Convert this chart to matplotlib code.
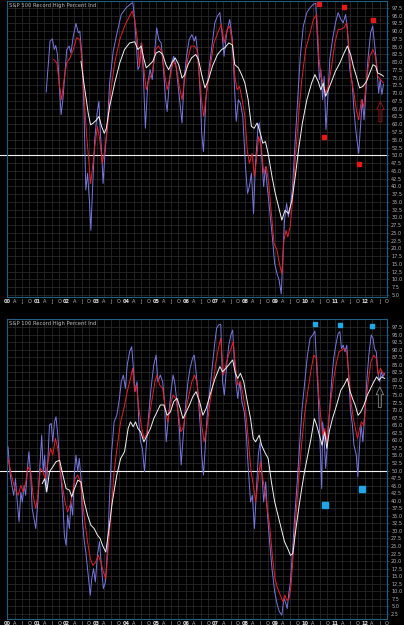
import numpy as np
import matplotlib
matplotlib.use("Agg")
import matplotlib.pyplot as plt
from matplotlib.patches import FancyArrow

# ---- S&P 500 panel data (year, percent) ----
spx_blue_t = [2001.31, 2001.44, 2001.52, 2001.58, 2001.63, 2001.69, 2001.76, 2001.81, 2001.87, 2001.94,
              2002.0, 2002.08, 2002.14, 2002.22, 2002.31, 2002.39, 2002.44, 2002.52, 2002.58, 2002.64,
              2002.7, 2002.76, 2002.81, 2002.87, 2002.94, 2003.02, 2003.08, 2003.13, 2003.18, 2003.22,
              2003.29, 2003.36, 2003.44, 2003.56, 2003.69, 2003.83, 2004.0, 2004.17, 2004.22, 2004.28,
              2004.33, 2004.39, 2004.44, 2004.5, 2004.56, 2004.64, 2004.72, 2004.8, 2004.87, 2004.94,
              2005.02, 2005.09, 2005.17, 2005.24, 2005.31, 2005.37, 2005.44, 2005.52, 2005.59, 2005.67,
              2005.74, 2005.82, 2005.87, 2005.94, 2006.02, 2006.11, 2006.2, 2006.28, 2006.33, 2006.41,
              2006.48, 2006.53, 2006.59, 2006.67, 2006.76, 2006.86, 2006.97, 2007.06, 2007.14, 2007.2,
              2007.28, 2007.37, 2007.47, 2007.56, 2007.63, 2007.69, 2007.76, 2007.83, 2007.91, 2008.0,
              2008.07, 2008.13, 2008.2, 2008.27, 2008.33, 2008.42, 2008.47, 2008.53, 2008.61, 2008.67,
              2008.73, 2008.8, 2008.89, 2008.98, 2009.06, 2009.13, 2009.2, 2009.24, 2009.31, 2009.38,
              2009.44, 2009.51, 2009.58, 2009.67, 2009.76, 2009.84, 2009.94, 2010.06, 2010.17, 2010.28,
              2010.36, 2010.42, 2010.48, 2010.53, 2010.59, 2010.64, 2010.7, 2010.76, 2010.83, 2010.92,
              2011.02, 2011.11, 2011.2, 2011.28, 2011.36, 2011.42, 2011.5, 2011.58, 2011.64, 2011.69,
              2011.74, 2011.8, 2011.87, 2011.92, 2011.98, 2012.03, 2012.11, 2012.2, 2012.27, 2012.33,
              2012.41, 2012.47, 2012.52, 2012.58, 2012.63]
spx_blue_v = [70.4, 86.8, 87.5, 84.1, 85.4, 82.5, 71.1, 63.1, 67.9, 76.5,
              84.1, 85.2, 83.0, 88.4, 92.5, 89.5, 90.0, 80.9, 64.7, 38.8,
              44.2, 35.5, 25.8, 39.9, 55.0, 63.6, 67.4, 57.1, 49.6, 40.9,
              51.7, 59.3, 73.3, 83.5, 89.5, 95.4, 97.6, 99.0, 99.2, 93.8,
              86.2, 77.6, 78.7, 86.2, 78.7, 58.7, 73.3, 77.6, 74.4, 81.9,
              91.1, 87.3, 86.2, 78.7, 69.0, 64.1, 73.3, 79.8, 81.9, 78.7,
              72.2, 64.7, 60.4, 74.4, 81.9, 87.3, 88.9, 86.8, 88.4, 81.9,
              70.0, 57.1, 51.2, 67.9, 76.5, 84.1, 92.7, 94.9, 96.0, 90.6,
              81.9, 89.5, 93.8, 87.3, 72.2, 60.9, 67.9, 66.8, 62.5, 46.3,
              37.7, 39.9, 44.2, 31.2, 46.3, 59.3, 60.4, 51.7, 39.9, 46.3,
              39.9, 33.4, 24.8, 15.0, 11.8, 9.7, 5.3, 14.0, 29.1, 34.5,
              30.2, 33.4, 39.9, 55.0, 69.0, 81.9, 91.6, 96.0, 97.6, 98.7,
              99.0, 86.2, 74.4, 77.6, 67.9, 75.5, 58.2, 67.9, 80.9, 87.3,
              92.7, 96.0, 93.8, 92.7, 95.4, 90.6, 77.6, 73.3, 64.7, 59.3,
              55.0, 50.6, 60.4, 67.9, 61.4, 69.0, 80.9, 89.5, 91.6, 86.2,
              78.7, 70.0, 74.4, 69.6, 72.8]

spx_red_t = [2001.56, 2001.67, 2001.76, 2001.83, 2001.91, 2002.0, 2002.11, 2002.22, 2002.33, 2002.44,
             2002.52, 2002.59, 2002.67, 2002.74, 2002.8, 2002.87, 2002.94, 2003.03, 2003.11, 2003.19,
             2003.26, 2003.36, 2003.47, 2003.61, 2003.78, 2003.94, 2004.11, 2004.2, 2004.28, 2004.37,
             2004.44, 2004.52, 2004.59, 2004.67, 2004.76, 2004.87, 2004.98, 2005.08, 2005.19, 2005.28,
             2005.37, 2005.47, 2005.58, 2005.67, 2005.78, 2005.87, 2005.96, 2006.06, 2006.17, 2006.28,
             2006.37, 2006.44, 2006.52, 2006.6, 2006.69, 2006.8, 2006.94, 2007.09, 2007.19, 2007.28,
             2007.39, 2007.47, 2007.56, 2007.64, 2007.72, 2007.8, 2007.89, 2007.98, 2008.06, 2008.13,
             2008.22, 2008.3, 2008.37, 2008.44, 2008.53, 2008.61, 2008.7, 2008.78, 2008.87, 2008.96,
             2009.06, 2009.14, 2009.22, 2009.29, 2009.36, 2009.42, 2009.5, 2009.58, 2009.67, 2009.78,
             2009.89, 2010.02, 2010.17, 2010.28, 2010.39, 2010.47, 2010.53, 2010.61, 2010.69, 2010.78,
             2010.89, 2011.0, 2011.11, 2011.2, 2011.3, 2011.4, 2011.48, 2011.56, 2011.64, 2011.72,
             2011.8, 2011.89, 2011.97, 2012.06, 2012.17, 2012.28, 2012.36, 2012.44, 2012.53, 2012.63]
spx_red_v = [80.9, 79.8, 72.2, 67.9, 74.4, 79.8, 81.4, 84.1, 87.9, 87.3,
             79.8, 67.9, 56.0, 48.5, 40.9, 46.3, 52.8, 59.3, 55.0, 47.4,
             50.6, 58.2, 70.1, 79.8, 87.3, 91.6, 94.9, 96.5, 93.8, 87.3,
             78.7, 86.2, 77.6, 71.1, 74.4, 76.5, 84.1, 85.2, 83.5, 76.5,
             71.1, 75.5, 80.4, 78.7, 72.2, 67.9, 74.4, 80.9, 85.2, 85.2,
             84.1, 76.5, 67.9, 62.5, 70.1, 77.6, 86.2, 90.0, 92.2, 86.2,
             90.7, 91.6, 86.2, 75.5, 71.1, 72.2, 67.9, 62.5, 51.7, 47.4,
             50.6, 43.1, 48.5, 56.0, 52.8, 44.2, 46.3, 40.9, 31.2, 21.5,
             19.4, 15.0, 11.8, 22.6, 25.8, 23.7, 26.9, 35.5, 48.5, 62.5,
             74.4, 84.1, 89.5, 93.8, 95.4, 80.9, 75.5, 73.3, 70.1, 72.2,
             78.7, 86.2, 90.6, 90.6, 91.1, 92.7, 84.1, 74.4, 70.1, 64.7,
             61.4, 67.9, 65.7, 74.4, 81.9, 84.1, 81.9, 75.5, 74.4, 73.3]

spx_white_t = [2002.48, 2002.56, 2002.64, 2002.72, 2002.8, 2002.89, 2003.0, 2003.08, 2003.17, 2003.26,
               2003.33, 2003.44, 2003.61, 2003.78, 2003.94, 2004.11, 2004.28, 2004.39, 2004.5, 2004.58,
               2004.67, 2004.78, 2004.89, 2005.0, 2005.11, 2005.22, 2005.33, 2005.42, 2005.53, 2005.64,
               2005.76, 2005.87, 2005.96, 2006.07, 2006.19, 2006.33, 2006.42, 2006.53, 2006.64, 2006.76,
               2006.89, 2007.06, 2007.2, 2007.31, 2007.44, 2007.56, 2007.64, 2007.76, 2007.87, 2007.98,
               2008.09, 2008.2, 2008.29, 2008.39, 2008.5, 2008.58, 2008.67, 2008.76, 2008.89, 2009.0,
               2009.11, 2009.22, 2009.33, 2009.44, 2009.56, 2009.67, 2009.78, 2009.91, 2010.06, 2010.22,
               2010.33, 2010.44, 2010.53, 2010.61, 2010.69, 2010.78, 2010.89, 2011.02, 2011.17, 2011.31,
               2011.42, 2011.53, 2011.62, 2011.72, 2011.83, 2011.94, 2012.06, 2012.17, 2012.28, 2012.37,
               2012.44, 2012.56, 2012.63]
spx_white_v = [80.3, 74.4, 69.0, 63.6, 59.8, 60.4, 61.4, 62.5, 59.3, 57.1,
               58.7, 65.7, 73.3, 79.8, 84.1, 86.2, 86.6, 84.1, 85.2, 81.4,
               78.2, 79.2, 80.3, 83.0, 83.5, 82.5, 79.2, 77.6, 79.8, 81.4,
               79.2, 74.9, 76.0, 79.2, 81.4, 82.5, 80.9, 76.0, 71.7, 74.4,
               78.7, 82.5, 84.1, 84.7, 86.2, 85.6, 79.2, 78.2, 76.0, 73.3,
               67.9, 59.3, 58.7, 60.4, 57.1, 53.9, 54.4, 50.6, 43.1, 37.7,
               33.4, 29.1, 32.3, 31.2, 35.5, 43.1, 51.7, 60.4, 67.9, 73.3,
               76.0, 73.8, 71.1, 73.3, 69.0, 71.1, 73.8, 77.1, 79.8, 83.0,
               85.2, 82.5, 78.7, 75.5, 71.7, 72.2, 73.8, 76.5, 79.2, 78.7,
               76.5, 76.0, 75.5]

spx_mark_t = [2010.48, 2011.30, 2012.27, 2010.63, 2011.80]
spx_mark_v = [98.9, 97.8, 93.6, 55.9, 47.2]

# ---- S&P 100 panel data ----
oex_blue_t = [2000.03, 2000.09, 2000.14, 2000.22, 2000.28, 2000.34, 2000.4, 2000.46, 2000.51, 2000.57,
              2000.62, 2000.68, 2000.73, 2000.79, 2000.84, 2000.9, 2000.96, 2001.03, 2001.1, 2001.16,
              2001.21, 2001.26, 2001.31, 2001.37, 2001.42, 2001.48, 2001.53, 2001.59, 2001.64, 2001.7,
              2001.76, 2001.81, 2001.87, 2001.92, 2001.98, 2002.03, 2002.09, 2002.14, 2002.2, 2002.26,
              2002.31, 2002.37, 2002.42, 2002.48, 2002.53, 2002.59, 2002.64, 2002.72, 2002.79, 2002.84,
              2002.9, 2002.96, 2003.03, 2003.1, 2003.17, 2003.23, 2003.3, 2003.37, 2003.43, 2003.5,
              2003.59, 2003.68, 2003.77, 2003.83, 2003.9, 2003.97, 2004.03, 2004.11, 2004.18, 2004.23,
              2004.29, 2004.36, 2004.42, 2004.48, 2004.54, 2004.61, 2004.68, 2004.76, 2004.83, 2004.92,
              2005.0, 2005.06, 2005.14, 2005.22, 2005.28, 2005.34, 2005.42, 2005.5, 2005.57, 2005.62,
              2005.7, 2005.78, 2005.84, 2005.92, 2006.0, 2006.07, 2006.14, 2006.22, 2006.28, 2006.33,
              2006.4, 2006.48, 2006.53, 2006.59, 2006.66, 2006.73, 2006.81, 2006.89, 2006.96, 2007.03,
              2007.1, 2007.17, 2007.23, 2007.29, 2007.37, 2007.44, 2007.51, 2007.57, 2007.62, 2007.68,
              2007.74, 2007.81, 2007.88, 2007.96, 2008.03, 2008.1, 2008.17, 2008.23, 2008.3, 2008.37,
              2008.43, 2008.49, 2008.54, 2008.61, 2008.68, 2008.74, 2008.81, 2008.89, 2008.98, 2009.07,
              2009.14, 2009.22, 2009.29, 2009.34, 2009.4, 2009.46, 2009.51, 2009.57, 2009.64, 2009.72,
              2009.81, 2009.9, 2009.99, 2010.08, 2010.17, 2010.26, 2010.33, 2010.39, 2010.44, 2010.5,
              2010.56, 2010.59, 2010.64, 2010.69, 2010.74, 2010.81, 2010.89, 2010.96, 2011.03, 2011.11,
              2011.17, 2011.22, 2011.28, 2011.34, 2011.4, 2011.47, 2011.52, 2011.59, 2011.64, 2011.72,
              2011.77, 2011.83, 2011.88, 2011.94, 2012.0, 2012.07, 2012.14, 2012.22, 2012.28, 2012.33,
              2012.39, 2012.44, 2012.5, 2012.56, 2012.61, 2012.67]
oex_blue_v = [57.8, 49.6, 46.2, 41.8, 47.3, 39.6, 33.0, 42.9, 39.6, 45.1,
              41.8, 50.7, 56.2, 48.5, 37.4, 34.1, 30.8, 39.6, 51.8, 61.7,
              49.6, 55.1, 42.9, 54.0, 65.0, 65.6, 59.5, 66.1, 67.8, 61.7,
              52.9, 47.3, 39.6, 28.6, 25.2, 35.2, 30.8, 39.6, 35.2, 49.6,
              55.1, 49.6, 54.0, 47.3, 33.0, 26.4, 23.0, 15.3, 8.7, 14.2,
              17.5, 13.1, 21.9, 26.4, 17.5, 10.9, 13.1, 24.1, 39.6, 55.1,
              66.1, 68.3, 73.9, 79.4, 81.6, 77.2, 84.9, 89.3, 91.0, 84.9,
              76.1, 79.4, 66.1, 59.5, 57.3, 49.6, 59.5, 69.4, 77.2, 84.9,
              88.2, 79.4, 81.6, 79.4, 72.8, 59.5, 68.3, 76.1, 81.6, 79.4,
              72.8, 63.9, 51.8, 62.8, 72.8, 79.4, 83.8, 87.1, 88.2, 83.8,
              76.1, 65.0, 55.1, 48.5, 59.5, 70.6, 77.2, 84.9, 91.5, 97.1,
              98.2, 98.4, 79.4, 75.0, 84.9, 91.5, 94.9, 96.5, 87.1, 79.4,
              73.9, 79.4, 72.8, 69.4, 61.7, 49.6, 39.6, 41.8, 30.8, 44.0,
              55.1, 59.5, 50.7, 39.6, 46.2, 35.2, 26.4, 17.5, 9.8, 5.4,
              3.2, 2.1, 7.6, 6.5, 4.3, 9.8, 13.1, 21.9, 33.0, 44.0,
              57.3, 70.6, 79.4, 88.2, 93.8, 94.9, 96.2, 84.9, 75.0, 59.5,
              44.0, 66.1, 60.6, 50.7, 57.3, 68.3, 79.4, 87.1, 91.5, 95.4,
              96.0, 90.4, 91.5, 89.3, 91.5, 80.5, 70.6, 65.0, 58.4, 55.1,
              47.9, 58.4, 65.0, 59.5, 68.3, 79.4, 88.2, 94.9, 93.8, 90.4,
              89.3, 82.7, 79.4, 82.7, 81.0, 82.2]

oex_red_t = [2000.03, 2000.14, 2000.26, 2000.37, 2000.46, 2000.54, 2000.61, 2000.7, 2000.79, 2000.87,
             2000.96, 2001.03, 2001.12, 2001.2, 2001.28, 2001.37, 2001.46, 2001.53, 2001.62, 2001.7,
             2001.79, 2001.87, 2001.94, 2002.03, 2002.11, 2002.2, 2002.28, 2002.37, 2002.46, 2002.53,
             2002.61, 2002.7, 2002.79, 2002.88, 2002.97, 2003.06, 2003.14, 2003.23, 2003.31, 2003.39,
             2003.48, 2003.59, 2003.7, 2003.81, 2003.92, 2004.03, 2004.14, 2004.21, 2004.28, 2004.34,
             2004.42, 2004.5, 2004.59, 2004.67, 2004.76, 2004.87, 2004.96, 2005.03, 2005.12, 2005.22,
             2005.31, 2005.39, 2005.48, 2005.57, 2005.66, 2005.74, 2005.83, 2005.92, 2006.01, 2006.1,
             2006.2, 2006.29, 2006.37, 2006.44, 2006.53, 2006.61, 2006.7, 2006.81, 2006.92, 2007.01,
             2007.09, 2007.17, 2007.26, 2007.34, 2007.43, 2007.52, 2007.59, 2007.67, 2007.74, 2007.83,
             2007.92, 2008.01, 2008.1, 2008.19, 2008.28, 2008.34, 2008.42, 2008.5, 2008.58, 2008.66,
             2008.73, 2008.81, 2008.9, 2008.99, 2009.08, 2009.17, 2009.26, 2009.32, 2009.39, 2009.46,
             2009.52, 2009.59, 2009.68, 2009.77, 2009.87, 2009.98, 2010.09, 2010.19, 2010.29, 2010.39,
             2010.46, 2010.52, 2010.59, 2010.66, 2010.72, 2010.79, 2010.87, 2010.96, 2011.06, 2011.14,
             2011.23, 2011.31, 2011.4, 2011.47, 2011.54, 2011.62, 2011.69, 2011.76, 2011.83, 2011.89,
             2011.97, 2012.03, 2012.12, 2012.21, 2012.3, 2012.39, 2012.46, 2012.53, 2012.59, 2012.67]
oex_red_v = [54.0, 48.5, 44.0, 41.8, 45.1, 42.9, 45.1, 51.2, 49.6, 41.8,
             37.4, 41.8, 50.7, 49.6, 47.3, 52.9, 57.3, 55.1, 60.6, 57.3,
             49.6, 44.0, 39.6, 36.3, 38.5, 42.9, 47.3, 48.5, 46.2, 39.6,
             33.0, 26.4, 20.8, 18.6, 19.7, 21.9, 19.7, 16.4, 14.2, 24.1,
             35.2, 49.6, 58.4, 66.1, 70.6, 76.1, 80.5, 83.8, 76.1, 78.3,
             70.6, 65.0, 60.6, 61.7, 67.2, 73.9, 79.4, 81.6, 78.3, 77.2,
             70.6, 66.1, 71.7, 75.0, 73.9, 69.4, 62.8, 64.5, 70.6, 75.0,
             79.4, 81.6, 79.4, 72.8, 65.0, 59.5, 63.9, 72.8, 79.4, 86.0,
             90.4, 93.8, 81.6, 84.9, 88.2, 90.4, 92.7, 83.8, 78.3, 79.4,
             75.0, 69.4, 59.5, 49.6, 44.0, 39.6, 46.2, 52.9, 47.3, 42.9,
             37.4, 31.9, 21.9, 14.2, 10.9, 8.7, 6.5, 8.7, 7.0, 7.6,
             10.9, 20.8, 33.0, 45.1, 57.3, 68.3, 76.1, 82.7, 88.2, 87.1,
             75.0, 68.3, 61.7, 63.9, 59.5, 66.1, 73.9, 80.5, 86.0, 89.3,
             89.9, 90.4, 89.3, 81.6, 72.8, 67.2, 63.9, 60.6, 63.9, 66.1,
             65.0, 71.7, 79.4, 86.0, 88.2, 87.1, 81.6, 83.8, 82.7, 81.6]

oex_white_t = [2001.18, 2001.26, 2001.33, 2001.42, 2001.53, 2001.64, 2001.76, 2001.87, 2001.98, 2002.09,
               2002.17, 2002.26, 2002.37, 2002.48, 2002.59, 2002.7, 2002.81, 2002.92, 2003.03, 2003.12,
               2003.2, 2003.31, 2003.42, 2003.53, 2003.68, 2003.81, 2003.94, 2004.06, 2004.14, 2004.23,
               2004.31, 2004.39, 2004.48, 2004.59, 2004.7, 2004.81, 2004.92, 2005.03, 2005.14, 2005.26,
               2005.37, 2005.48, 2005.59, 2005.7, 2005.81, 2005.9, 2006.01, 2006.12, 2006.23, 2006.34,
               2006.46, 2006.57, 2006.68, 2006.81, 2006.98, 2007.14, 2007.23, 2007.34, 2007.48, 2007.57,
               2007.66, 2007.74, 2007.83, 2007.94, 2008.06, 2008.17, 2008.26, 2008.34, 2008.46, 2008.54,
               2008.64, 2008.76, 2008.87, 2008.98, 2009.09, 2009.2, 2009.31, 2009.42, 2009.51, 2009.59,
               2009.68, 2009.77, 2009.87, 2009.98, 2010.09, 2010.2, 2010.31, 2010.39, 2010.48, 2010.57,
               2010.66, 2010.73, 2010.81, 2010.92, 2011.06, 2011.2, 2011.31, 2011.42, 2011.5, 2011.59,
               2011.68, 2011.78, 2011.87, 2011.98, 2012.09, 2012.2, 2012.31, 2012.4, 2012.48, 2012.57,
               2012.67]
oex_white_v = [45.7, 47.3, 42.9, 49.6, 51.2, 52.9, 53.4, 48.5, 44.0, 43.5,
               41.3, 44.0, 46.8, 46.2, 39.6, 35.2, 31.9, 30.8, 28.6, 27.5,
               25.2, 23.0, 30.8, 39.6, 48.5, 54.0, 56.2, 63.9, 66.1, 64.5,
               66.1, 63.9, 62.8, 59.5, 61.7, 63.9, 67.2, 69.4, 71.7, 71.7,
               68.3, 69.4, 72.8, 73.9, 70.6, 67.2, 69.4, 71.7, 74.4, 76.1,
               72.8, 68.3, 70.6, 75.0, 80.5, 84.4, 82.7, 83.8, 85.5, 86.6,
               82.2, 80.5, 82.2, 79.4, 72.8, 67.2, 60.6, 59.5, 61.7, 58.4,
               56.2, 54.0, 46.2, 39.6, 35.2, 30.8, 26.4, 24.1, 21.9, 22.5,
               29.7, 36.3, 42.9, 49.6, 55.1, 60.6, 67.2, 65.0, 61.7, 58.4,
               62.8, 57.3, 62.8, 67.2, 71.7, 76.6, 78.3, 80.5, 76.6, 73.9,
               71.7, 68.3, 69.4, 71.7, 75.0, 77.2, 79.4, 81.0, 79.9, 81.0,
               80.5]

oex_mark_hi_t = [2010.32, 2011.17, 2012.26]
oex_mark_hi_v = [98.5, 98.2, 97.8]
oex_mark_lo_t = [2010.66, 2011.92]
oex_mark_lo_v = [38.7, 43.8]

years = list(range(2000, 2013))
quarter_letters = ["A", "J", "O"]

BG = "black"
GRID = "#2e2e2e"
FRAME = "#1f5f80"
LABEL = "#b8b8b8"
BLUE = "#7878e0"
RED = "#e8202a"
WHITE = "#f2f2f2"

fig = plt.figure(figsize=(4.04, 6.25), dpi=100, facecolor=BG)
ax1 = fig.add_axes([7 / 404, 1 - 297 / 625, 380 / 404, 296.5 / 625])
ax2 = fig.add_axes([7 / 404, 1 - 619 / 625, 380 / 404, 299.7 / 625])


def style(ax, ylo, yhi, ystart, title):
    ax.set_facecolor(BG)
    ax.set_xlim(1999.995, 2012.68)
    ax.set_ylim(ylo, yhi)
    ticks, labels = [], []
    for y in years:
        ticks.append(y)
        labels.append("%02d" % (y % 100))
        for q, l in enumerate(quarter_letters):
            ticks.append(y + 0.25 * (q + 1))
            labels.append(l)
    ax.set_xticks(ticks)
    ax.set_xticklabels(labels)
    for t in ax.get_xticklabels():
        if t.get_text().isdigit():
            t.set_color("#e0e0e0")
            t.set_fontweight("bold")
        else:
            t.set_color(LABEL)
    yt = np.arange(ystart, 97.6, 2.5)
    ax.set_yticks(yt)
    ax.set_yticklabels(["%.1f" % v for v in yt])
    ax.yaxis.tick_right()
    ax.tick_params(axis="x", length=0, pad=1.5, labelsize=3.6)
    ax.tick_params(axis="y", length=1.5, width=0.5, color=FRAME, pad=1.5,
                   labelsize=3.6, labelcolor=LABEL)
    ax.grid(True, color=GRID, linewidth=0.5)
    ax.set_axisbelow(True)
    for s in ax.spines.values():
        s.set_color(FRAME)
        s.set_linewidth(0.8)
    ax.axhline(50, xmin=-0.02, xmax=1, color=WHITE, lw=0.8, clip_on=False, zorder=2)
    ax.text(0.004, 0.993, title, transform=ax.transAxes, fontsize=3.8,
            color=LABEL, va="top", ha="left")


style(ax1, 4.3, 99.9, 5.0, "S&P 500 Record High Percent Ind")
style(ax2, 0.83, 100.07, 2.5, "S&P 100 Record High Percent Ind")

ax1.plot(spx_blue_t, spx_blue_v, color=BLUE, lw=0.7, zorder=3)
ax1.plot(spx_red_t, spx_red_v, color=RED, lw=0.7, zorder=4)
ax1.plot(spx_white_t, spx_white_v, color=WHITE, lw=0.7, zorder=5)
ax1.plot(spx_mark_t, spx_mark_v, ls="none", marker="s", ms=3.3, color="#e81818", zorder=6, clip_on=False)
ax1.add_patch(FancyArrow(2012.53, 60.8, 0, 6.5, width=0.1, head_width=0.25, head_length=2.6,
                         length_includes_head=True, fc="none", ec="#a01818", lw=0.6, zorder=6))

ax2.plot(oex_blue_t, oex_blue_v, color=BLUE, lw=0.7, zorder=3)
ax2.plot(oex_red_t, oex_red_v, color=RED, lw=0.7, zorder=4)
ax2.plot(oex_white_t, oex_white_v, color=WHITE, lw=0.7, zorder=5)
ax2.plot(oex_mark_hi_t, oex_mark_hi_v, ls="none", marker="s", ms=3.0, color="#1ea8e8", zorder=6, clip_on=False)
ax2.plot(oex_mark_lo_t, oex_mark_lo_v, ls="none", marker="s", ms=4.6, color="#1ea8e8", zorder=6)
ax2.add_patch(FancyArrow(2012.51, 70.9, 0, 6.8, width=0.1, head_width=0.25, head_length=2.6,
                         length_includes_head=True, fc="none", ec="#8a8a8a", lw=0.6, zorder=6))

fig.savefig("out.png", dpi=100, facecolor=BG)
